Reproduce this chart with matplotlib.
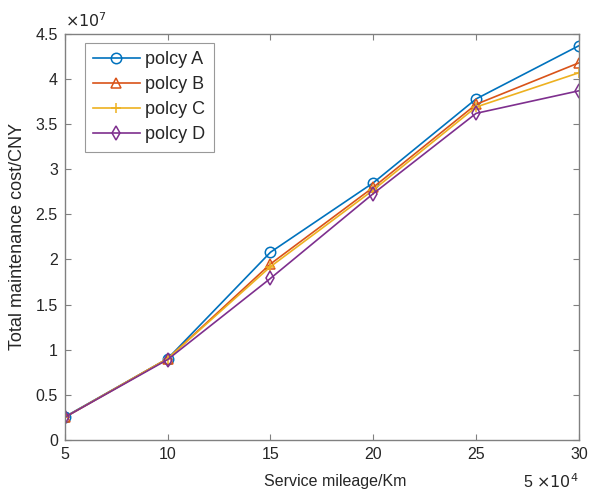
import numpy as np
import matplotlib.pyplot as plt

plt.rcParams['font.family'] = ['Liberation Sans', 'DejaVu Sans']

# service mileage (x 10^4 km) and total cost (x 10^7 CNY)
mileage = [5, 10, 15, 20, 25, 30]
cost_a = [0.255, 0.90, 2.08, 2.85, 3.78, 4.37]
cost_b = [0.250, 0.90, 1.95, 2.80, 3.72, 4.18]
cost_c = [0.250, 0.90, 1.92, 2.77, 3.69, 4.07]
cost_d = [0.250, 0.89, 1.79, 2.73, 3.62, 3.87]
labels = ['polcy A', 'polcy B', 'polcy C', 'polcy D']

colors = ['#0072BD', '#D95319', '#EDB120', '#7E2F8E']
markers = ['o', '^', '+', 'd']

fig = plt.figure(figsize=(5.89, 4.92), dpi=100)
ax = fig.add_axes([0.110, 0.106, 0.873, 0.825])

for ys, lab, c, m in zip([cost_a, cost_b, cost_c, cost_d], labels, colors, markers):
    ax.plot(mileage, ys, color=c, marker=m, markersize=7.5, markerfacecolor='none',
            markeredgewidth=1.1, linewidth=1.2, label=lab)

ax.set_xlim(5, 30)
ax.set_ylim(0, 4.5)
ax.set_xticks(mileage)
ax.set_yticks(np.arange(0, 4.51, 0.5))
ax.set_yticklabels(['0', '0.5', '1', '1.5', '2', '2.5', '3', '3.5', '4', '4.5'])

grey = '#808080'
for s in ax.spines.values():
    s.set_color(grey)
    s.set_linewidth(1.0)
ax.tick_params(direction='in', length=4, width=0.8, color=grey, labelsize=11.5,
               labelcolor='#262626', top=True, right=True, pad=5)

ax.set_xlabel('Service mileage/Km', fontsize=11.5, color='#262626')
ax.xaxis.set_label_coords(0.525, -0.085, transform=ax.transAxes)
ax.xaxis.label.set_va('top')
ax.set_ylabel('Total maintenance cost/CNY', fontsize=13, color='#262626', labelpad=7)

ax.text(0.0, 1.01, r'$\times10^{7}$', transform=ax.transAxes, ha='left', va='bottom',
        fontsize=11.5, color='#262626')
ax.text(1.0, -0.118, r'5 $\times10^{4}$', transform=ax.transAxes, ha='right',
        va='baseline', fontsize=11.5, color='#262626')

leg = ax.legend(loc='upper left', bbox_to_anchor=(0.039, 0.978), borderaxespad=0,
                fontsize=13, frameon=True, fancybox=False, edgecolor=grey,
                handlelength=2.6, borderpad=0.45, labelspacing=0.45, handletextpad=0.3)
leg.get_frame().set_linewidth(0.8)
for t in leg.get_texts():
    t.set_color('#262626')

fig.savefig('out.png', dpi=100)
